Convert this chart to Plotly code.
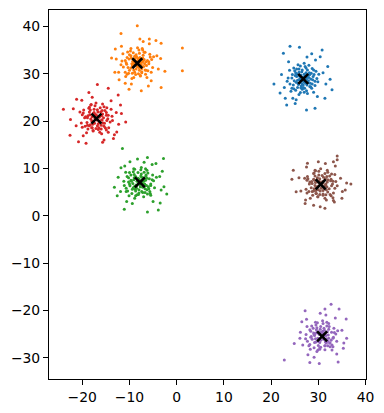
import plotly.graph_objects as go

blue_pts = [
    (27.1,29.1),(26.3,29.7),(27.9,28.5),(25.6,28.6),(27.4,30.2),(26.6,27.8),(28.2,29.8),(25.9,30.3),(26.9,28.3),(25.4,29.4),
    (27.6,27.6),(26.2,28.1),(28.0,29.2),(26.5,30.4),(27.3,28.8),(25.8,27.7),(28.3,28.0),(26.7,29.3),(27.7,29.6),(26.1,29.0),
    (27.0,29.9),(25.5,29.9),(27.8,28.1),(26.4,27.4),(27.5,28.9),(26.0,28.7),(26.8,27.6),(28.1,30.2),(25.3,28.2),(27.2,29.5),
    (28.9,29.4),(24.5,29.8),(28.6,26.9),(25.2,26.5),(27.2,31.5),(26.2,26.0),(29.5,30.5),(24.0,27.8),(28.0,31.8),(24.8,31.2),
    (29.9,28.3),(23.6,29.1),(27.7,25.8),(25.7,31.9),(29.3,27.5),(24.4,26.9),(28.7,31.1),(26.6,26.7),(29.7,29.0),(25.0,30.6),
    (27.0,32.2),(23.9,30.7),(29.0,26.1),(25.9,25.6),(30.1,29.9),(23.4,28.4),(28.4,27.2),(25.4,31.0),(27.5,26.4),(24.2,26.3),
    (31.0,30.2),(22.8,27.1),(29.8,25.2),(23.7,32.5),(27.6,33.5),(25.3,24.5),(31.6,27.8),(22.2,29.8),(29.4,32.9),(24.6,24.8),
    (20.6,27.8),(32.5,28.8),(24.0,35.8),(26.0,35.6),(30.8,35.0),(22.6,34.3),(31.4,24.8),(23.3,23.4),(29.3,22.7),(27.5,22.3),
    (25.1,23.7),(32.0,31.5),(21.9,25.9),(30.4,33.6),(28.6,34.2),(23.0,24.8),(32.9,26.6),
    (27.7,30.8),(24.9,28.5),(28.8,28.7),(26.3,27.0),(28.5,30.1),(25.2,30.2),(27.1,26.9),(24.7,27.6),(29.1,29.8),(25.9,31.0),
    (28.2,27.3),(25.6,27.1),(27.4,31.2),(24.4,29.1),(28.7,27.8),(26.6,30.8),(29.3,28.4),(25.1,29.6),(26.8,27.1),(27.9,29.8),
    (26.0,29.5),(27.3,28.0),(26.5,28.5),(27.6,29.3),(25.7,28.0),(28.4,28.9),(26.2,31.6),(29.0,30.8),(24.8,26.8),(27.0,26.1),
]

orange_pts = [
    (-8.1,31.8),(-9.0,32.8),(-7.3,32.4),(-9.4,31.6),(-7.8,33.4),(-8.6,31.0),(-7.0,31.5),(-9.6,33.3),(-8.3,32.7),(-8.9,32.0),
    (-7.4,31.1),(-9.2,32.2),(-6.9,33.0),(-8.5,33.6),(-7.7,32.3),(-9.7,31.2),(-8.0,31.3),(-8.8,33.2),(-7.2,33.3),(-9.3,32.6),
    (-7.5,31.9),(-8.4,31.5),(-6.8,32.1),(-9.1,30.8),(-8.2,33.2),(-9.5,32.1),(-7.9,30.7),(-8.7,32.5),(-7.1,32.7),(-8.9,33.7),
    (-5.9,32.5),(-10.5,33.4),(-6.6,29.9),(-10.2,30.1),(-8.0,35.0),(-9.1,29.2),(-5.7,34.1),(-11.3,31.4),(-7.3,35.3),(-10.4,34.6),
    (-5.1,31.3),(-11.6,32.7),(-7.7,29.5),(-9.7,35.3),(-6.1,30.6),(-10.9,30.3),(-6.7,34.5),(-8.7,29.8),(-5.3,33.0),(-10.0,34.0),
    (-8.3,35.5),(-11.4,34.2),(-6.3,29.2),(-9.5,29.0),(-4.9,33.6),(-11.8,31.9),(-6.5,30.7),(-10.7,32.3),(-7.4,30.2),(-10.8,29.4),
    (-4.2,33.8),(-12.3,30.3),(-5.4,28.5),(-11.7,35.8),(-7.1,36.8),(-9.6,27.8),(-3.9,31.0),(-12.8,33.1),(-5.8,36.3),(-10.9,28.0),
    (-8.35,40.1),(-11.8,38.5),(1.2,35.4),(1.2,30.6),(-3.3,27.1),(-10.1,26.7),(-13.8,33.3),(-13.1,30.3),(-7.5,26.4),
    (-4.4,37.0),(-5.8,37.3),(-7.8,37.3),(-12.2,28.7),(-3.4,33.2),(-2.5,30.5),(-13.0,35.2),(-6.0,27.4),(-3.3,36.4),
    (-10.1,33.1),(-6.4,31.7),(-8.9,30.3),(-7.1,33.9),(-10.3,31.3),(-7.9,34.3),(-6.2,32.8),(-9.7,33.8),(-7.4,30.4),(-10.6,32.0),
    (-6.7,30.8),(-9.2,34.4),(-5.9,32.1),(-9.4,30.1),(-8.1,30.0),(-10.0,30.7),(-6.9,34.5),(-8.6,34.0),(-7.6,31.6),(-8.8,32.4),
    (-8.0,33.0),(-9.3,31.8),(-6.5,32.5),(-10.9,32.8),(-7.7,29.6),(-9.8,34.8),(-5.6,33.5),(-10.5,29.9),(-7.2,35.0),(-5.4,30.3),
]

green_pts = [
    (-7.3,6.8),(-8.2,7.9),(-6.6,7.5),(-8.9,6.2),(-7.6,8.4),(-8.5,5.8),(-6.4,6.4),(-9.1,7.6),(-7.8,6.6),(-8.1,6.9),
    (-6.9,8.0),(-8.7,8.3),(-6.7,5.7),(-7.9,7.6),(-7.2,6.0),(-9.3,6.8),(-7.5,7.2),(-8.4,7.3),(-6.3,7.9),(-8.8,5.6),
    (-7.0,7.3),(-8.0,5.5),(-6.8,6.7),(-9.0,8.0),(-7.4,8.1),(-8.6,6.5),(-7.7,6.1),(-6.5,8.4),(-9.2,5.9),(-7.1,7.7),
    (-5.5,6.4),(-10.2,8.0),(-6.2,4.6),(-9.5,4.7),(-7.6,9.7),(-8.7,4.2),(-5.1,8.6),(-10.7,5.8),(-6.6,9.9),(-10.0,9.1),
    (-4.7,5.9),(-11.2,7.3),(-7.0,4.0),(-9.1,9.9),(-5.7,5.1),(-10.4,5.2),(-6.1,9.0),(-8.1,4.5),(-4.9,7.4),(-9.7,8.6),
    (-7.5,10.2),(-10.8,9.2),(-5.5,4.3),(-8.9,3.7),(-4.3,8.1),(-11.1,6.4),(-5.9,5.7),(-10.0,6.7),(-7.2,4.9),(-10.1,4.2),
    (-3.6,8.3),(-11.9,5.1),(-5.0,3.0),(-11.0,10.5),(-6.9,11.3),(-9.4,2.6),(-3.3,5.4),(-12.4,8.1),(-5.2,10.8),(-10.6,3.0),
    (-11.5,14.2),(-2.8,12.1),(-6.2,12.3),(-11.1,1.35),(-6.2,0.8),(-3.9,1.2),(-2.1,4.6),(-13.2,6.0),(-3.05,9.4),(-3.5,2.7),
    (-11.8,10.1),(-9.9,11.4),(-2.7,6.1),(-12.6,4.2),(-8.3,12.0),(-4.4,11.0),
    (-6.0,6.1),(-9.7,7.5),(-7.4,5.1),(-9.0,8.7),(-5.8,7.8),(-8.2,9.1),(-9.9,6.3),(-6.5,8.6),(-8.7,5.2),(-5.5,6.7),
    (-9.4,5.6),(-6.9,9.2),(-10.2,7.1),(-6.7,4.9),(-8.0,4.8),(-6.3,5.5),(-9.2,9.3),(-7.5,8.8),(-8.5,6.4),(-7.3,7.2),
    (-8.1,7.8),(-6.8,6.6),(-9.6,7.3),(-5.2,7.6),(-8.4,4.4),(-6.3,9.6),(-10.5,8.3),(-5.6,4.7),(-8.9,9.8),(-10.7,5.1),
]

red_pts = [
    (-17.3,20.6),(-16.2,21.2),(-18.0,20.0),(-15.8,20.2),(-17.5,21.8),(-16.6,19.4),(-18.4,21.3),(-15.7,21.5),(-16.9,20.2),(-17.8,19.3),
    (-16.3,19.7),(-17.2,21.4),(-15.5,20.7),(-18.2,20.4),(-16.7,21.9),(-17.6,19.8),(-16.0,19.1),(-18.5,21.9),(-16.5,20.9),(-17.9,20.9),
    (-16.8,19.0),(-15.9,21.1),(-17.4,19.5),(-16.1,21.9),(-18.3,19.2),(-17.0,21.2),(-17.7,21.6),(-15.6,19.6),(-17.1,20.4),(-16.4,20.0),
    (-19.3,20.9),(-14.9,21.8),(-18.8,18.3),(-15.1,18.5),(-17.3,23.2),(-16.3,17.6),(-19.7,22.3),(-14.1,19.8),(-18.1,23.5),(-14.8,22.8),
    (-20.2,19.6),(-13.7,21.0),(-17.7,17.9),(-15.7,23.6),(-19.4,18.9),(-14.4,18.6),(-18.6,22.7),(-16.6,18.2),(-20.0,21.3),(-15.2,22.2),
    (-17.1,23.8),(-13.9,22.5),(-19.1,17.5),(-15.9,17.3),(-20.5,21.9),(-13.6,20.1),(-18.9,19.1),(-14.6,20.5),(-17.9,18.6),(-14.5,17.6),
    (-21.3,19.0),(-12.8,21.8),(-19.8,16.9),(-13.9,24.3),(-17.9,25.0),(-15.4,16.0),(-21.9,22.6),(-12.3,19.3),(-20.1,24.4),(-13.2,17.1),
    (-24.0,22.5),(-22.6,17.0),(-16.8,27.7),(-14.5,26.9),(-10.8,19.8),(-20.8,15.6),(-19.2,15.3),(-12.7,17.7),(-13.4,16.3),(-15.7,15.5),
    (-21.2,24.6),(-11.7,21.6),(-12.4,25.5),(-22.5,20.3),(-11.9,23.4),(-18.6,26.0),
    (-15.3,19.5),(-18.8,21.1),(-16.5,18.6),(-18.3,22.3),(-14.9,21.2),(-17.5,22.5),(-19.0,19.7),(-15.8,22.2),(-18.0,18.6),(-14.8,20.1),
    (-18.5,19.0),(-16.2,22.8),(-19.5,20.7),(-16.0,18.3),(-17.1,18.4),(-15.4,18.9),(-18.5,22.9),(-16.8,22.4),(-17.8,20.0),(-16.4,20.8),
    (-17.2,21.2),(-15.9,20.2),(-18.9,20.7),(-14.5,21.2),(-17.7,18.0),(-15.4,23.0),(-19.8,21.7),(-14.9,18.1),(-18.2,23.4),(-20.0,18.7),
]

purple_pts = [
    (31.0,-25.0),(29.9,-25.9),(31.8,-26.2),(29.7,-24.6),(31.3,-24.2),(30.3,-26.8),(32.1,-25.2),(29.4,-26.0),(30.7,-25.7),(30.2,-25.1),
    (31.5,-26.7),(29.6,-24.1),(31.9,-24.5),(30.5,-26.3),(31.2,-25.5),(29.2,-25.3),(30.9,-24.4),(30.0,-26.5),(32.2,-25.9),(29.8,-24.8),
    (31.4,-24.9),(30.4,-24.0),(31.7,-26.9),(29.5,-26.7),(31.1,-26.1),(30.1,-24.5),(31.6,-25.3),(29.3,-24.9),(32.0,-26.5),(30.8,-24.7),
    (33.1,-25.9),(28.4,-24.4),(32.5,-27.7),(29.1,-27.9),(31.0,-22.8),(29.9,-28.4),(33.3,-23.8),(27.7,-26.5),(31.8,-22.5),(28.6,-23.3),
    (33.9,-26.5),(27.4,-25.1),(31.4,-28.3),(29.4,-22.5),(32.9,-27.3),(28.2,-27.2),(32.3,-23.4),(30.3,-27.9),(33.7,-25.0),(28.9,-23.8),
    (30.9,-22.2),(27.6,-23.4),(32.9,-28.4),(29.7,-28.7),(34.1,-24.3),(27.3,-26.0),(32.5,-26.9),(28.4,-25.7),(31.4,-27.5),(28.3,-28.2),
    (35.0,-24.2),(26.7,-27.3),(33.9,-29.2),(27.5,-21.9),(31.6,-21.0),(29.1,-29.9),(35.4,-26.9),(26.2,-24.6),(33.6,-21.6),(27.8,-29.4),
    (22.8,-30.5),(27.2,-20.1),(32.7,-18.7),(34.4,-19.7),(35.9,-21.8),(36.0,-25.9),(35.3,-28.0),(34.2,-30.9),(30.2,-31.2),(28.2,-31.0),
    (24.9,-27.0),(26.1,-25.9),(26.5,-22.4),(30.4,-20.6),(31.4,-19.7),
    (32.7,-26.3),(29.0,-24.8),(31.4,-27.5),(29.7,-23.7),(32.8,-24.6),(30.5,-23.4),(28.7,-26.1),(32.2,-24.0),(30.0,-27.4),(33.2,-25.7),
    (29.2,-26.8),(31.8,-23.3),(28.5,-25.5),(32.0,-27.5),(30.5,-27.8),(32.4,-26.9),(29.5,-23.1),(31.2,-23.8),(30.2,-26.2),(31.2,-25.2),
    (30.4,-24.7),(31.7,-26.0),(29.1,-25.1),(33.4,-24.7),(30.3,-28.2),(32.2,-22.8),(28.2,-24.1),(33.1,-27.7),(29.8,-22.6),(28.0,-27.5),
]

brown_pts = [
    (30.1,6.3),(31.2,7.4),(29.4,7.0),(31.8,6.1),(30.3,7.8),(31.0,5.3),(29.1,5.7),(31.5,7.8),(30.7,6.7),(29.7,7.6),
    (31.4,6.4),(30.0,5.5),(31.9,7.1),(29.3,6.4),(30.6,5.8),(29.9,7.1),(31.7,5.5),(29.0,7.7),(30.9,7.2),(29.6,6.0),
    (31.1,8.1),(30.4,5.2),(31.6,6.7),(29.2,7.5),(30.8,6.1),(29.8,8.0),(31.3,5.7),(29.5,5.3),(32.0,7.6),(30.5,7.0),
    (28.2,7.1),(32.7,7.7),(28.8,4.3),(32.5,4.5),(30.1,9.4),(31.4,3.7),(27.7,8.3),(33.5,5.8),(29.3,9.6),(32.8,8.8),
    (27.4,5.6),(33.7,7.2),(29.9,4.0),(31.9,9.6),(28.0,5.1),(33.2,4.8),(29.0,8.9),(31.0,4.3),(27.6,7.5),(32.4,8.4),
    (30.5,9.9),(33.5,8.7),(28.3,3.7),(31.7,3.3),(27.1,7.9),(34.0,6.3),(28.7,5.1),(33.0,6.7),(29.5,4.7),(33.1,3.8),
    (34.7,7.9),(26.3,5.2),(33.4,2.9),(27.5,10.3),(31.5,11.0),(29.0,2.2),(35.1,5.1),(25.9,8.0),(33.6,10.5),(27.3,3.3),
    (34.0,12.6),(34.0,11.8),(33.2,11.4),(24.7,9.6),(24.4,7.7),(36.9,6.7),(36.0,6.9),(35.0,3.7),(35.7,5.4),(25.3,5.05),
    (27.2,2.6),(30.4,1.9),(31.4,1.55),(33.2,3.2),(27.7,11.1),(30.0,11.4),
    (32.3,5.7),(28.6,7.2),(31.0,4.6),(29.3,8.4),(32.6,7.4),(30.1,8.6),(28.5,5.9),(31.8,8.3),(29.6,4.7),(32.8,6.3),
    (29.0,5.2),(31.4,8.9),(28.1,6.7),(31.6,4.4),(30.3,4.5),(32.0,5.0),(29.1,9.0),(30.8,8.5),(29.8,6.1),(31.0,6.9),
    (30.2,7.3),(31.5,6.3),(28.7,6.8),(33.1,7.3),(29.9,4.0),(32.0,9.2),(27.8,7.8),(32.7,4.2),(29.4,9.5),(27.6,4.8),
]

centroid_x = [26.8, -8.35, -7.8, -17.0, 30.8, 30.5]
centroid_y = [28.9, 32.2, 7.05, 20.5, -25.5, 6.6]

x_ticks = [-20, -10, 0, 10, 20, 30, 40]
y_ticks = [-30, -20, -10, 0, 10, 20, 30, 40]

clusters = [
    (blue_pts, "#1f77b4"),
    (orange_pts, "#ff7f0e"),
    (green_pts, "#2ca02c"),
    (red_pts, "#d62728"),
    (purple_pts, "#9467bd"),
    (brown_pts, "#8c564b"),
]

fig = go.Figure()
for pts, color in clusters:
    xs = [p[0] for p in pts]
    ys = [p[1] for p in pts]
    fig.add_trace(go.Scatter(
        x=xs, y=ys, mode="markers",
        marker=dict(size=3, color=color, line=dict(width=0)),
        showlegend=False, hoverinfo="skip",
    ))

fig.add_trace(go.Scatter(
    x=centroid_x, y=centroid_y, mode="markers",
    marker=dict(symbol="x-thin", size=10, color="black",
                line=dict(width=2.6, color="black")),
    showlegend=False,
))

axis_common = dict(
    showgrid=False, zeroline=False, showline=True, linecolor="black",
    linewidth=1, mirror=True, ticks="outside", ticklen=5, tickwidth=1,
    tickcolor="black", tickfont=dict(family="DejaVu Sans", size=13.9, color="black"),
)

# the page body has an 8px default margin, so the figure is shifted by 8px
fig.update_layout(
    width=376, height=405,
    margin=dict(l=41, r=18, t=2, b=34),
    paper_bgcolor="white", plot_bgcolor="white",
    xaxis=dict(range=[-27.05, 40.1], tickvals=x_ticks, automargin=False, **axis_common),
    yaxis=dict(range=[-34.5, 43.45], tickvals=y_ticks, automargin=False, **axis_common),
)

fig.write_html("out.html")
